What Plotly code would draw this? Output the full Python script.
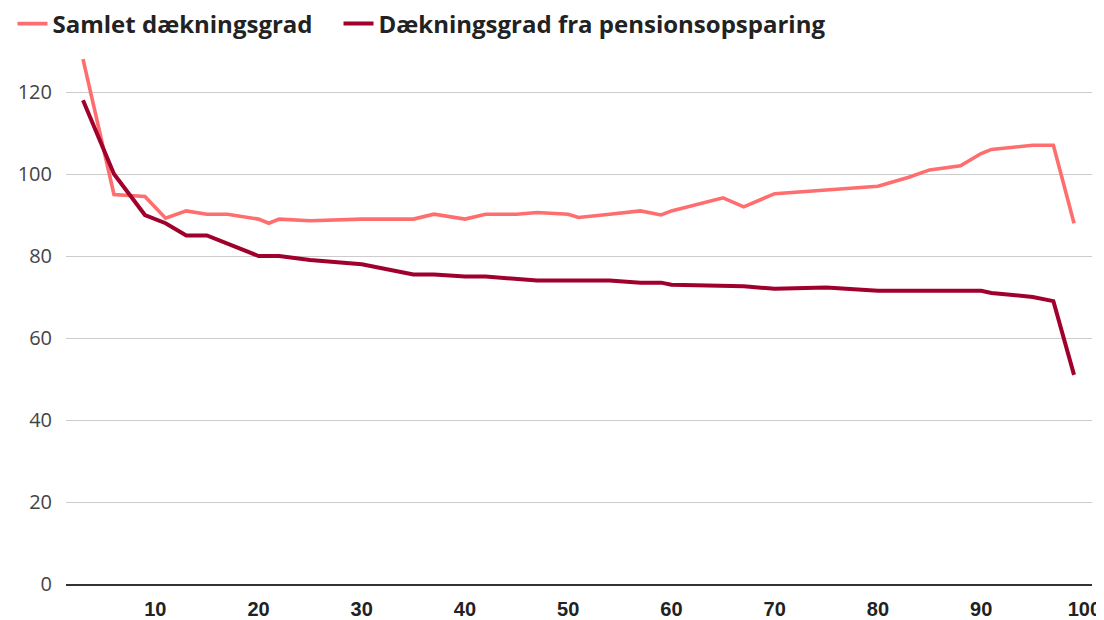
import plotly.graph_objects as go

# Percentile (x) and coverage ratios (y)
x_total = [3, 6, 9, 11, 13, 15, 17, 20, 21, 22, 25, 30, 35, 37, 40, 42, 45, 47, 50, 51,
           54, 57, 59, 60, 65, 67, 70, 75, 80, 83, 85, 88, 90, 91, 95, 97, 99]
y_total = [128, 95, 94.5, 89.2, 91, 90.2, 90.2, 89, 88, 89, 88.6, 89, 89, 90.2, 89, 90.2,
           90.2, 90.6, 90.2, 89.4, 90.2, 91, 90, 91, 94.2, 92, 95.2, 96, 97, 99.2, 101,
           102, 105, 106, 107, 107, 88]

x_pension = [3, 6, 9, 11, 13, 15, 20, 22, 25, 30, 35, 37, 40, 42, 47, 50, 54, 57, 59, 60,
             65, 67, 70, 75, 80, 90, 91, 95, 97, 99]
y_pension = [118, 100, 90, 88, 85, 85, 80, 80, 79, 78, 75.5, 75.5, 75, 75, 74, 74, 74,
             73.5, 73.5, 73, 72.6, 72.6, 72, 72.3, 71.5, 71.5, 71, 70, 69, 51]

name_total = "Samlet dækningsgrad"
name_pension = "Dækningsgrad fra pensionsopsparing"
x_ticks = [10, 20, 30, 40, 50, 60, 70, 80, 90, 100]
y_ticks = [0, 20, 40, 60, 80, 100, 120]

W, H = 1096, 612

fig = go.Figure()
fig.add_trace(go.Scatter(x=x_total, y=y_total, mode="lines", name=name_total,
                         legend="legend",
                         line=dict(color="#FF6E6E", width=3.6)))
fig.add_trace(go.Scatter(x=x_pension, y=y_pension, mode="lines", name=name_pension,
                         legend="legend2",
                         line=dict(color="#A0002C", width=4)))

legend_font = dict(family="Open Sans", size=24, color="#222222", weight="bold")

fig.update_layout(
    width=W, height=H,
    margin=dict(l=58, r=12, t=43, b=36, autoexpand=False),
    paper_bgcolor="white", plot_bgcolor="white",
    showlegend=True,
    legend=dict(orientation="h", xref="container", yref="container",
                x=4.5 / W, y=1 - 16 / H, xanchor="left", yanchor="middle",
                font=legend_font, itemwidth=30, bgcolor="rgba(0,0,0,0)"),
    legend2=dict(orientation="h", xref="container", yref="container",
                 x=330.5 / W, y=1 - 16 / H, xanchor="left", yanchor="middle",
                 font=legend_font, itemwidth=30, bgcolor="rgba(0,0,0,0)"),
    xaxis=dict(range=[1.353, 100.74], tickvals=x_ticks, ticktext=[str(v) for v in x_ticks],
               showgrid=False, zeroline=False, showline=True, linecolor="#333333",
               linewidth=2, ticks="", ticklabelstandoff=6, automargin=False,
               tickfont=dict(family="Liberation Sans", size=20, color="#222222",
                             weight="bold")),
    yaxis=dict(range=[0, 130], tickvals=y_ticks, showgrid=True, gridcolor="#cccccc",
               gridwidth=1, zeroline=False, showline=False, ticks="",
               ticklabelstandoff=13, automargin=False,
               tickfont=dict(family="Open Sans", size=20, color="#444444")),
)

fig.write_html("out.html")
